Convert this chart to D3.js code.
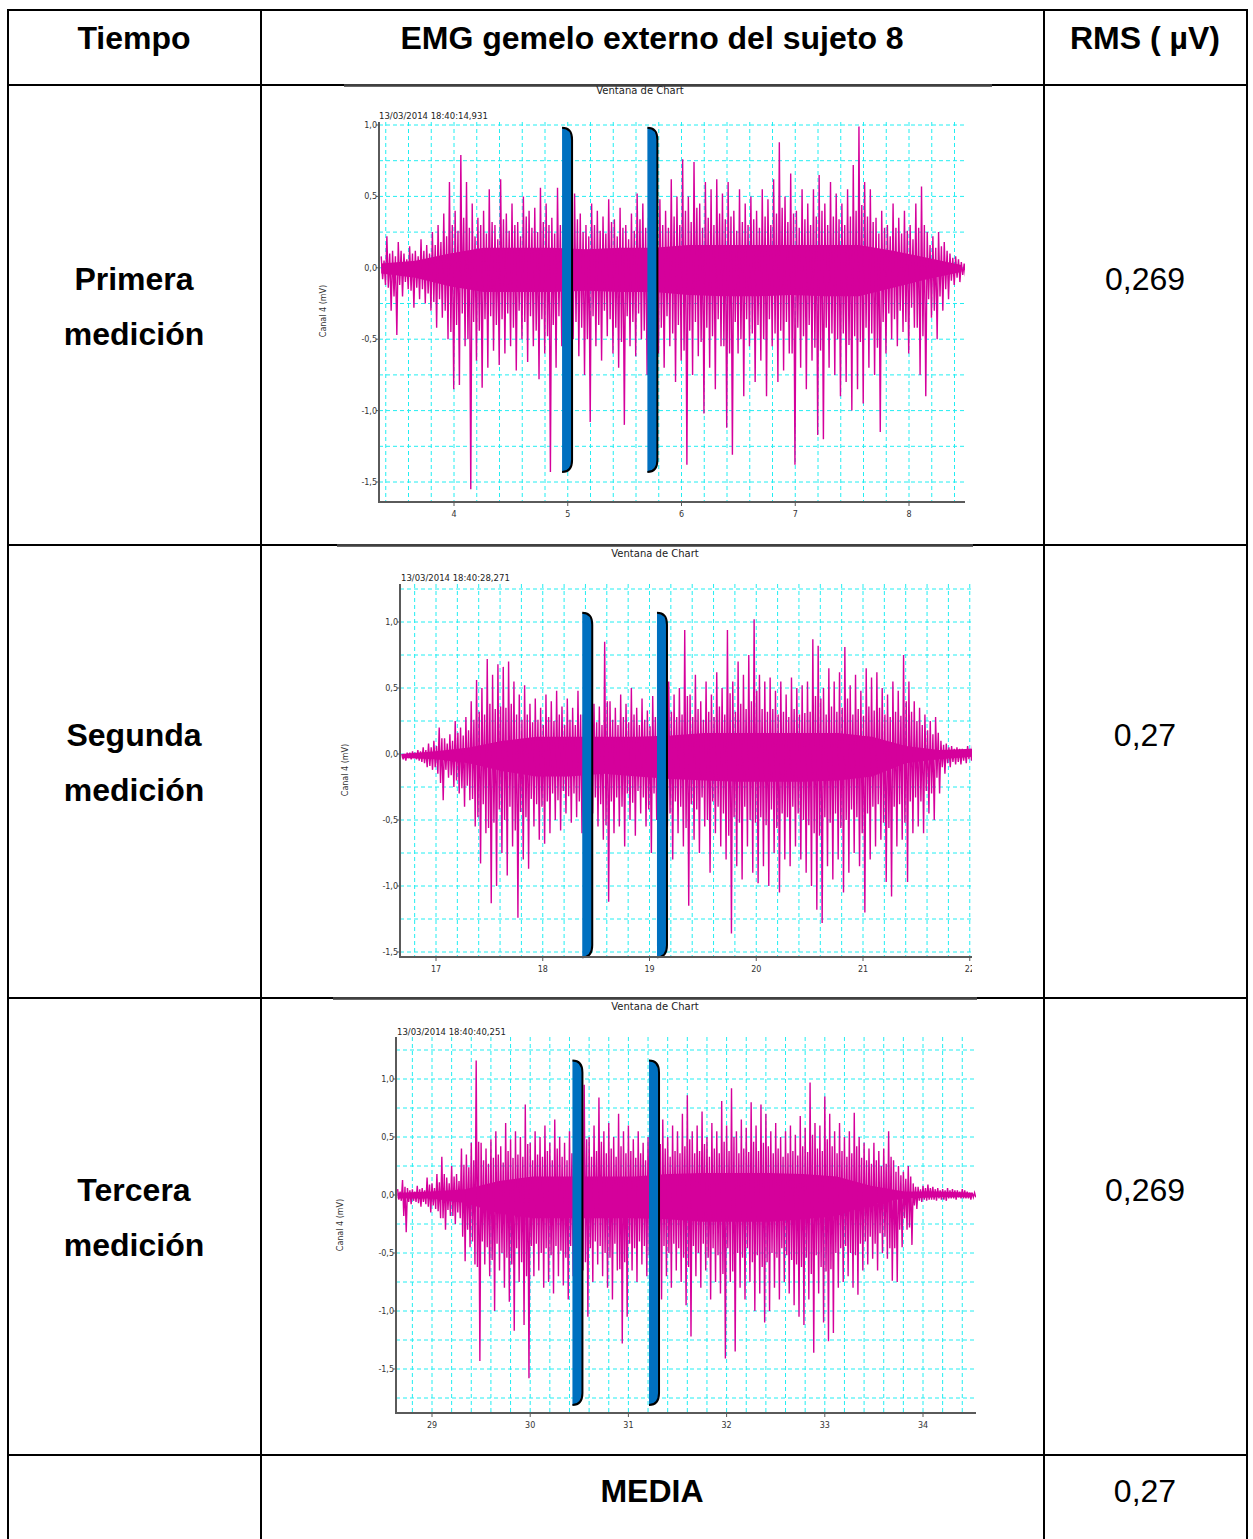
<!DOCTYPE html>
<html><head><meta charset="utf-8">
<script src="https://cdn.jsdelivr.net/npm/d3@7"></script>
<style>body{margin:0;background:#fff}svg{display:block}</style>
</head><body>
<svg id="c" width="1253" height="1539"></svg>
<script>
// ---------- table texts ----------
const headers = ["Tiempo", "EMG gemelo externo del sujeto 8", "RMS ( µV)"];
const rowLabels = [["Primera","medición"],["Segunda","medición"],["Tercera","medición"]];
const rmsValues = ["0,269", "0,27", "0,269"];
const meanLabel = "MEDIA";
const meanValue = "0,27";

// ---------- chart texts ----------
const chartTitles = ["Ventana de Chart","Ventana de Chart","Ventana de Chart"];
const stamps = ["13/03/2014 18:40:14,931","13/03/2014 18:40:28,271","13/03/2014 18:40:40,251"];
const yLabel = "Canal 4 (mV)";
const xTicks1 = [4,5,6,7,8];
const xTicks2 = [17,18,19,20,21,22];
const xTicks3 = [29,30,31,32,33,34];
const yTicks = [1.0,0.5,0.0,-0.5,-1.0,-1.5];

// ---------- signal 1: time span, big peaks/troughs, medium peaks/troughs, dense core ----------
const span1 = [3.36, 8.46];
const up1 = [0.08,0.22,0.12,0.18,0.10,0.15,0.12,0.20,0.16,0.25,
 0.30,0.38,0.60,0.40,0.79,0.60,0.45,0.35,0.40,0.55,
 0.30,0.62,0.38,0.45,0.32,0.50,0.40,0.42,0.56,0.45,
 0.35,0.56,0.30,0.35,0.52,0.38,0.30,0.45,0.40,0.36,
 0.48,0.34,0.42,0.30,0.38,0.52,0.45,0.35,0.40,0.48,
 0.40,0.62,0.50,0.76,0.50,0.74,0.45,0.60,0.55,0.62,
 0.52,0.60,0.40,0.55,0.45,0.50,0.40,0.55,0.48,0.62,
 0.88,0.50,0.66,0.40,0.55,0.45,0.55,0.65,0.45,0.60,
 0.52,0.45,0.55,0.72,0.99,0.60,0.55,0.35,0.40,0.30,
 0.45,0.35,0.40,0.30,0.45,0.57,0.25,0.22,0.25,0.18,
 0.10,0.08,0.04];
const down1 = [-0.12,-0.30,-0.47,-0.20,-0.15,-0.28,-0.22,-0.25,-0.30,-0.42,
 -0.35,-0.50,-0.85,-0.82,-0.55,-1.55,-0.65,-0.84,-0.70,-0.58,
 -0.68,-0.60,-0.55,-0.72,-0.50,-0.66,-0.55,-0.78,-0.60,-1.43,
 -0.70,-0.55,-0.40,-0.50,-0.62,-0.75,-1.08,-0.55,-0.65,-0.48,
 -0.60,-0.70,-1.10,-0.55,-0.62,-0.50,-0.75,-0.45,-0.60,-0.70,
 -0.55,-0.80,-0.65,-1.38,-0.75,-0.62,-1.02,-0.70,-0.85,-0.55,
 -1.12,-1.31,-0.60,-0.90,-0.55,-0.80,-0.65,-0.90,-0.55,-0.80,
 -0.72,-0.60,-1.38,-0.70,-0.85,-0.65,-1.17,-1.20,-0.70,-0.75,
 -0.90,-0.80,-1.00,-0.85,-0.95,-0.70,-0.75,-1.15,-0.60,-0.50,
 -0.55,-0.45,-0.60,-0.42,-0.75,-0.90,-0.35,-0.50,-0.30,-0.22,
 -0.12,-0.10,-0.06];
const midUp1 = [0.05,0.10,0.08,0.12,0.06,0.10,0.08,0.12,0.10,0.16,
 0.18,0.22,0.30,0.26,0.35,0.28,0.22,0.30,0.24,0.32,
 0.20,0.34,0.26,0.30,0.22,0.36,0.28,0.25,0.32,0.30,
 0.24,0.30,0.22,0.28,0.34,0.25,0.22,0.30,0.26,0.24,
 0.32,0.22,0.28,0.20,0.26,0.34,0.28,0.24,0.26,0.30,
 0.28,0.36,0.30,0.40,0.32,0.42,0.28,0.35,0.30,0.38,
 0.34,0.36,0.26,0.32,0.30,0.34,0.28,0.36,0.30,0.38,
 0.42,0.32,0.38,0.28,0.34,0.30,0.36,0.40,0.30,0.36,
 0.34,0.30,0.36,0.40,0.44,0.36,0.32,0.24,0.28,0.22,
 0.28,0.24,0.26,0.20,0.28,0.30,0.16,0.14,0.15,0.12,
 0.07,0.06,0.03];
const midDown1 = [-0.08,-0.14,-0.20,-0.12,-0.10,-0.16,-0.14,-0.15,-0.18,-0.24,
 -0.22,-0.30,-0.45,-0.40,-0.32,-0.50,-0.38,-0.44,-0.36,-0.34,
 -0.40,-0.36,-0.32,-0.42,-0.30,-0.38,-0.34,-0.44,-0.36,-0.48,
 -0.40,-0.34,-0.28,-0.32,-0.38,-0.42,-0.50,-0.34,-0.40,-0.30,
 -0.36,-0.42,-0.52,-0.34,-0.38,-0.32,-0.44,-0.30,-0.36,-0.42,
 -0.34,-0.46,-0.40,-0.58,-0.44,-0.38,-0.52,-0.42,-0.48,-0.36,
 -0.55,-0.60,-0.38,-0.50,-0.36,-0.46,-0.40,-0.50,-0.36,-0.46,
 -0.44,-0.38,-0.60,-0.42,-0.48,-0.40,-0.56,-0.58,-0.42,-0.46,
 -0.50,-0.46,-0.54,-0.48,-0.52,-0.42,-0.46,-0.56,-0.38,-0.32,
 -0.36,-0.30,-0.38,-0.28,-0.42,-0.48,-0.22,-0.30,-0.20,-0.15,
 -0.09,-0.07,-0.05];
const coreUp1 = [0.03,0.05,0.10,0.14,0.14,0.14,0.13,0.14,0.14,0.16,0.16,0.16,0.16,0.16,0.16,0.12,0.07,0.02];
const coreDown1 = [-0.04,-0.07,-0.13,-0.17,-0.17,-0.17,-0.16,-0.17,-0.17,-0.19,-0.20,-0.20,-0.19,-0.20,-0.20,-0.14,-0.08,-0.03];
const cursors1 = [4.95, 5.70];
const cursorRange1 = [0.98, -1.43];

// ---------- signal 2 ----------
const span2 = [16.68, 22.03];
const up2 = [0.00,0.01,0.02,0.03,0.05,0.08,0.10,0.20,0.12,0.15,
 0.25,0.20,0.28,0.40,0.56,0.50,0.72,0.60,0.68,0.66,
 0.70,0.55,0.45,0.52,0.38,0.42,0.35,0.45,0.40,0.48,
 0.36,0.42,0.35,0.48,0.30,0.32,0.38,0.36,0.85,0.40,
 0.35,0.45,0.38,0.50,0.35,0.42,0.33,0.44,0.30,0.32,
 0.55,0.45,0.50,0.94,0.45,0.60,0.40,0.55,0.45,0.62,
 0.50,0.94,0.55,0.70,0.60,0.75,1.02,0.60,0.55,0.58,
 0.48,0.55,0.45,0.58,0.50,0.52,0.55,0.87,0.82,0.50,
 0.65,0.55,0.62,0.81,0.52,0.60,0.48,0.65,0.58,0.62,
 0.50,0.45,0.55,0.48,0.75,0.55,0.40,0.35,0.30,0.25,
 0.28,0.10,0.08,0.06,0.05,0.04,0.06,0.10];
const down2 = [-0.05,-0.04,-0.04,-0.06,-0.10,-0.12,-0.15,-0.35,-0.18,-0.25,
 -0.30,-0.40,-0.35,-0.55,-0.83,-0.60,-1.13,-1.00,-0.75,-0.92,
 -0.70,-1.24,-0.80,-0.87,-0.55,-0.65,-0.68,-0.60,-0.50,-0.58,
 -0.45,-0.52,-0.48,-0.60,-0.50,-0.45,-0.55,-0.65,-1.12,-0.60,
 -0.55,-0.70,-0.50,-0.62,-0.45,-0.55,-0.75,-0.50,-0.45,-0.55,
 -0.80,-0.60,-0.70,-1.15,-0.65,-0.75,-0.55,-0.90,-0.60,-0.70,
 -0.80,-1.36,-0.85,-0.95,-0.70,-0.90,-0.98,-0.85,-1.00,-0.75,
 -1.05,-0.80,-0.85,-0.70,-0.80,-0.90,-1.00,-1.18,-1.28,-0.85,
 -0.95,-0.80,-1.05,-0.90,-0.75,-0.85,-1.20,-0.80,-0.70,-0.65,
 -0.97,-1.08,-0.70,-0.65,-0.97,-0.60,-0.55,-0.60,-0.45,-0.50,
 -0.30,-0.15,-0.10,-0.08,-0.08,-0.07,-0.05,-0.02];
const midUp2 = [0.00,0.01,0.01,0.02,0.03,0.05,0.06,0.12,0.08,0.10,
 0.16,0.14,0.18,0.26,0.32,0.30,0.38,0.34,0.36,0.35,
 0.38,0.30,0.26,0.30,0.24,0.26,0.22,0.28,0.25,0.30,
 0.22,0.26,0.22,0.30,0.20,0.22,0.24,0.22,0.40,0.26,
 0.22,0.28,0.24,0.30,0.22,0.26,0.21,0.28,0.20,0.22,
 0.32,0.28,0.30,0.44,0.28,0.34,0.26,0.32,0.28,0.36,
 0.30,0.46,0.32,0.38,0.34,0.40,0.48,0.34,0.32,0.34,
 0.30,0.32,0.28,0.34,0.30,0.31,0.32,0.44,0.42,0.30,
 0.36,0.32,0.35,0.42,0.30,0.34,0.29,0.36,0.33,0.35,
 0.30,0.28,0.32,0.29,0.40,0.32,0.25,0.22,0.18,0.15,
 0.16,0.07,0.05,0.04,0.04,0.03,0.04,0.06];
const midDown2 = [-0.04,-0.03,-0.03,-0.05,-0.07,-0.09,-0.10,-0.22,-0.12,-0.16,
 -0.20,-0.26,-0.24,-0.34,-0.48,-0.38,-0.56,-0.52,-0.42,-0.50,
 -0.40,-0.58,-0.44,-0.48,-0.34,-0.38,-0.40,-0.36,-0.30,-0.35,
 -0.28,-0.32,-0.30,-0.36,-0.30,-0.28,-0.33,-0.38,-0.54,-0.36,
 -0.33,-0.40,-0.30,-0.37,-0.28,-0.33,-0.42,-0.30,-0.28,-0.33,
 -0.45,-0.36,-0.40,-0.56,-0.38,-0.42,-0.33,-0.50,-0.36,-0.40,
 -0.45,-0.62,-0.48,-0.52,-0.40,-0.50,-0.52,-0.48,-0.54,-0.42,
 -0.56,-0.45,-0.48,-0.40,-0.45,-0.50,-0.54,-0.60,-0.62,-0.48,
 -0.52,-0.45,-0.56,-0.50,-0.42,-0.48,-0.60,-0.45,-0.40,-0.38,
 -0.52,-0.56,-0.40,-0.38,-0.52,-0.36,-0.33,-0.36,-0.28,-0.30,
 -0.18,-0.10,-0.07,-0.06,-0.06,-0.05,-0.04,-0.02];
const coreUp2 = [0.00,0.02,0.05,0.10,0.13,0.13,0.13,0.13,0.14,0.16,0.16,0.16,0.16,0.16,0.13,0.06,0.03,0.04];
const coreDown2 = [-0.03,-0.04,-0.07,-0.13,-0.17,-0.17,-0.15,-0.17,-0.19,-0.20,-0.21,-0.21,-0.21,-0.20,-0.17,-0.07,-0.04,-0.02];
const cursors2 = [18.37, 19.07];
const cursorRange2 = [1.07, -1.54];

// ---------- signal 3 ----------
const span3 = [28.65, 34.50];
const up3 = [0.05,0.13,0.06,0.05,0.08,0.06,0.15,0.10,0.18,0.33,
 0.15,0.25,0.18,0.40,0.35,0.45,1.16,0.45,0.40,0.48,
 0.55,0.42,0.62,0.48,0.55,0.50,0.78,0.45,0.55,0.50,
 0.60,0.45,0.65,0.50,0.45,0.55,0.40,0.50,0.95,0.50,
 0.60,0.84,0.55,0.62,0.50,0.70,0.55,0.60,0.48,0.55,
 0.45,0.50,0.60,0.72,0.65,0.50,0.60,0.55,0.70,0.86,
 0.55,0.60,0.72,0.50,0.62,0.55,0.81,0.60,0.92,0.55,
 0.65,0.58,0.80,0.60,0.78,0.70,0.55,0.62,0.50,0.55,
 0.60,0.52,0.68,0.58,0.97,0.62,0.60,0.85,0.70,0.55,
 0.62,0.50,0.55,0.71,0.50,0.45,0.40,0.45,0.38,0.40,
 0.55,0.30,0.25,0.20,0.25,0.10,0.07,0.08,0.09,0.07,
 0.06,0.05,0.06,0.05,0.04,0.05,0.03,0.02];
const down3 = [-0.05,-0.32,-0.08,-0.06,-0.10,-0.08,-0.15,-0.12,-0.20,-0.30,
 -0.18,-0.25,-0.20,-0.57,-0.45,-0.60,-1.43,-0.60,-0.70,-1.00,
 -0.65,-0.80,-0.92,-1.17,-0.75,-1.12,-1.58,-0.70,-0.65,-0.80,
 -0.75,-0.85,-0.70,-0.78,-0.90,-0.70,-0.60,-0.65,-1.05,-0.75,
 -0.60,-0.70,-0.80,-0.90,-0.65,-1.28,-1.05,-0.65,-0.75,-0.60,
 -0.70,-0.85,-1.00,-0.90,-0.70,-0.80,-0.65,-0.75,-0.95,-1.22,
 -0.70,-0.80,-0.65,-0.90,-0.75,-0.85,-1.41,-0.75,-1.35,-0.80,
 -0.90,-0.75,-1.00,-0.85,-1.10,-1.00,-0.80,-0.90,-0.75,-0.85,
 -0.95,-1.05,-1.12,-0.90,-1.36,-0.85,-1.10,-1.26,-1.19,-0.80,
 -0.75,-0.70,-0.80,-0.86,-0.65,-0.60,-0.55,-0.65,-0.50,-0.55,
 -0.74,-0.75,-0.45,-0.30,-0.43,-0.12,-0.06,-0.05,-0.04,-0.05,
 -0.04,-0.05,-0.03,-0.04,-0.03,-0.03,-0.04,-0.02];
const midUp3 = [0.03,0.07,0.04,0.03,0.05,0.04,0.09,0.06,0.11,0.18,
 0.10,0.16,0.12,0.26,0.24,0.30,0.46,0.30,0.27,0.32,
 0.35,0.28,0.38,0.32,0.35,0.33,0.44,0.30,0.35,0.33,
 0.38,0.30,0.40,0.33,0.30,0.36,0.28,0.33,0.48,0.33,
 0.38,0.46,0.36,0.40,0.33,0.42,0.36,0.38,0.32,0.36,
 0.30,0.33,0.38,0.44,0.40,0.33,0.38,0.36,0.42,0.48,
 0.36,0.38,0.44,0.33,0.40,0.36,0.46,0.38,0.50,0.36,
 0.40,0.37,0.46,0.38,0.45,0.42,0.36,0.40,0.33,0.36,
 0.38,0.34,0.42,0.37,0.52,0.40,0.38,0.48,0.42,0.36,
 0.38,0.33,0.36,0.42,0.32,0.30,0.27,0.30,0.25,0.27,
 0.33,0.20,0.17,0.14,0.16,0.07,0.05,0.06,0.06,0.05,
 0.04,0.04,0.04,0.04,0.03,0.04,0.02,0.02];
const midDown3 = [-0.04,-0.18,-0.06,-0.05,-0.07,-0.06,-0.10,-0.09,-0.14,-0.20,
 -0.13,-0.18,-0.15,-0.36,-0.30,-0.40,-0.62,-0.40,-0.45,-0.56,
 -0.42,-0.50,-0.54,-0.60,-0.46,-0.58,-0.70,-0.44,-0.42,-0.50,
 -0.46,-0.52,-0.44,-0.48,-0.54,-0.44,-0.40,-0.42,-0.58,-0.46,
 -0.40,-0.44,-0.50,-0.54,-0.42,-0.64,-0.58,-0.42,-0.46,-0.40,
 -0.44,-0.52,-0.58,-0.54,-0.44,-0.50,-0.42,-0.46,-0.54,-0.62,
 -0.44,-0.50,-0.42,-0.54,-0.46,-0.52,-0.68,-0.46,-0.66,-0.50,
 -0.54,-0.46,-0.58,-0.52,-0.62,-0.58,-0.50,-0.54,-0.46,-0.52,
 -0.56,-0.60,-0.62,-0.54,-0.68,-0.52,-0.62,-0.66,-0.64,-0.50,
 -0.46,-0.44,-0.50,-0.52,-0.42,-0.40,-0.36,-0.42,-0.33,-0.36,
 -0.46,-0.46,-0.30,-0.20,-0.28,-0.09,-0.05,-0.04,-0.04,-0.04,
 -0.03,-0.04,-0.03,-0.03,-0.02,-0.03,-0.03,-0.02];
const coreUp3 = [0.02,0.03,0.05,0.12,0.16,0.16,0.16,0.16,0.18,0.19,0.19,0.19,0.18,0.16,0.08,0.03,0.03,0.02];
const coreDown3 = [-0.03,-0.03,-0.07,-0.16,-0.20,-0.20,-0.20,-0.20,-0.21,-0.23,-0.23,-0.23,-0.21,-0.18,-0.08,-0.03,-0.02,-0.02];
const cursors3 = [30.43, 31.21];
const cursorRange3 = [1.16, -1.81];

// ---------- layout (pixels) ----------
const W = 1253, H = 1539;
const colX = [8, 261, 1044, 1247];
const rowY = [10, 85, 545, 998, 1455];
const layouts = [
  {xr:[4,454,8,909], xAx:[379,965], yr:[1.0,125,-1.5,482], yAx:[122,502], img:[344,992,85], title:[640,94], stamp:[379,119], ylab:[326,311]},
  {xr:[17,436,21,863], xAx:[400,972], yr:[1.0,622,-1.5,952], yAx:[584,957], img:[337,973,545], title:[655,557], stamp:[401,581], ylab:[348,770]},
  {xr:[29,432,34,923], xAx:[396,976], yr:[1.0,1079,-1.5,1369], yAx:[1037,1413], img:[333,977,998], title:[655,1010], stamp:[397,1035], ylab:[343,1225]}
];
const series = [
  {span:span1, up:up1, down:down1, mu:midUp1, md:midDown1, cu:coreUp1, cd:coreDown1, cur:cursors1, cr:cursorRange1, xt:xTicks1},
  {span:span2, up:up2, down:down2, mu:midUp2, md:midDown2, cu:coreUp2, cd:coreDown2, cur:cursors2, cr:cursorRange2, xt:xTicks2},
  {span:span3, up:up3, down:down3, mu:midUp3, md:midDown3, cu:coreUp3, cd:coreDown3, cur:cursors3, cr:cursorRange3, xt:xTicks3}
];

const MAG = "#d5009b", GRID = "#22eef2", AX = "#5a5a5a";
const svg = d3.select("#c");
svg.append("rect").attr("width", W).attr("height", H).attr("fill", "#fff");
const defs = svg.append("defs");

const fmt = v => d3.format(".1f")(v).replace(".", ",").replace("−", "-");

layouts.forEach((L, k) => {
  const S = series[k];
  const x = d3.scaleLinear().domain([L.xr[0], L.xr[2]]).range([L.xr[1], L.xr[3]]);
  const y = d3.scaleLinear().domain([L.yr[0], L.yr[2]]).range([L.yr[1], L.yr[3]]);
  const x0 = L.xAx[0], x1 = L.xAx[1], yTop = L.yAx[0], yBot = L.yAx[1];
  const g = svg.append("g");

  g.append("line").attr("x1", L.img[0]).attr("x2", L.img[1]).attr("y1", L.img[2] + 1.5).attr("y2", L.img[2] + 1.5)
    .attr("stroke", "#6a6a6a").attr("stroke-width", 1);

  const clipId = "clip" + k;
  defs.append("clipPath").attr("id", clipId).append("rect")
    .attr("x", x0).attr("y", yTop).attr("width", x1 - x0).attr("height", yBot - yTop);
  const lclip = "lclip" + k;
  defs.append("clipPath").attr("id", lclip).append("rect")
    .attr("x", x0 - 60).attr("y", yBot).attr("width", (L.img[1] - 1) - (x0 - 60)).attr("height", 30);

  // grids
  const vLo = x.invert(x0), vHi = x.invert(x1);
  const vg = d3.range(Math.ceil(vLo / 0.2 + 1e-6), Math.floor(vHi / 0.2 - 1e-6) + 1).map(i => i * 0.2);
  g.append("g").selectAll("line").data(vg).join("line")
    .attr("x1", d => x(d)).attr("x2", d => x(d)).attr("y1", yTop).attr("y2", yBot)
    .attr("stroke", GRID).attr("stroke-width", 1).attr("stroke-dasharray", "4,3");
  const hLo = y.invert(yBot), hHi = y.invert(yTop);
  const hg = d3.range(Math.ceil(hLo / 0.25 - 1e-6), Math.floor(hHi / 0.25 + 1e-6) + 1).map(i => i * 0.25);
  g.append("g").selectAll("line").data(hg).join("line")
    .attr("x1", x0).attr("x2", x1).attr("y1", d => y(d)).attr("y2", d => y(d))
    .attr("stroke", GRID).attr("stroke-width", 1).attr("stroke-dasharray", "4,3");

  // signal
  const sg = g.append("g").attr("clip-path", `url(#${clipId})`);
  const nc = S.cu.length, dc = (S.span[1] - S.span[0]) / (nc - 1);
  const core = S.cu.map((v, i) => ({t: S.span[0] + i * dc, a: v, b: S.cd[i]}));
  sg.append("path").datum(core)
    .attr("d", d3.area().x(d => x(d.t)).y0(d => y(d.b)).y1(d => y(d.a)))
    .attr("fill", MAG);
  const n = S.up.length, dt = (S.span[1] - S.span[0]) / (n - 1);
  const pts = [];
  S.up.forEach((v, i) => {
    const t = S.span[0] + i * dt;
    pts.push([t, v]);
    pts.push([t + 0.25 * dt, S.md[i]]);
    pts.push([t + 0.5 * dt, S.mu[i]]);
    pts.push([t + 0.75 * dt, S.down[i]]);
  });
  sg.append("path").datum(pts)
    .attr("d", d3.line().x(d => x(d[0])).y(d => y(d[1])))
    .attr("fill", "none").attr("stroke", MAG).attr("stroke-width", 1.4).attr("stroke-linejoin", "miter");

  // cursors
  const ct = y(S.cr[0]), cb = y(S.cr[1]), cw = 10, ch = 12;
  S.cur.forEach(c => {
    const l = x(c), r = l + cw;
    const p = `M${l},${ct} Q${r},${ct} ${r},${ct + ch} L${r},${cb - ch} Q${r},${cb} ${l},${cb}`;
    g.append("path").attr("d", p + " Z").attr("fill", "#0070c0");
    g.append("path").attr("d", p).attr("fill", "none").attr("stroke", "#000").attr("stroke-width", 2);
  });

  // axes
  g.append("line").attr("x1", x0).attr("x2", x0).attr("y1", yTop).attr("y2", yBot + 1).attr("stroke", AX).attr("stroke-width", 2);
  g.append("line").attr("x1", x0 - 1).attr("x2", x1).attr("y1", yBot).attr("y2", yBot).attr("stroke", AX).attr("stroke-width", 2);
  const xl = g.append("g").attr("clip-path", `url(#${lclip})`);
  S.xt.forEach(t => {
    xl.append("line").attr("x1", x(t)).attr("x2", x(t)).attr("y1", yBot).attr("y2", yBot + 4).attr("stroke", AX);
    xl.append("text").attr("x", x(t)).attr("y", yBot + 15).attr("text-anchor", "middle")
      .attr("font-family", "DejaVu Sans").attr("font-size", 8).attr("fill", "#333").text(t);
  });
  yTicks.forEach(t => {
    g.append("line").attr("x1", x0 - 3).attr("x2", x0).attr("y1", y(t)).attr("y2", y(t)).attr("stroke", AX);
    g.append("text").attr("x", x0 - 2).attr("y", y(t) + 3).attr("text-anchor", "end")
      .attr("font-family", "DejaVu Sans").attr("font-size", 8).attr("fill", "#333").text(fmt(t));
  });
  g.append("text").attr("transform", `translate(${L.ylab[0]},${L.ylab[1]}) rotate(-90)`).attr("text-anchor", "middle")
    .attr("font-family", "DejaVu Sans").attr("font-size", 8).attr("fill", "#333").text(yLabel);
  g.append("text").attr("x", L.stamp[0]).attr("y", L.stamp[1])
    .attr("font-family", "DejaVu Sans").attr("font-size", 8.5).attr("fill", "#222").text(stamps[k]);
  g.append("text").attr("x", L.title[0]).attr("y", L.title[1]).attr("text-anchor", "middle")
    .attr("font-family", "DejaVu Sans").attr("font-size", 10).attr("fill", "#222").text(chartTitles[k]);
});

// ---------- table ----------
const tb = svg.append("g").attr("stroke", "#000").attr("stroke-width", 2);
colX.forEach(cx => tb.append("line").attr("x1", cx).attr("x2", cx).attr("y1", rowY[0] - 1).attr("y2", H));
rowY.forEach(ry => {
  const img = layouts.find(L => L.img[2] === ry);
  if (img) {
    tb.append("line").attr("x1", colX[0] - 1).attr("x2", img.img[0]).attr("y1", ry).attr("y2", ry);
    tb.append("line").attr("x1", img.img[1]).attr("x2", colX[3] + 1).attr("y1", ry).attr("y2", ry);
    tb.append("line").attr("x1", img.img[0]).attr("x2", img.img[1]).attr("y1", ry).attr("y2", ry).attr("stroke-width", 1.5);
  } else {
    tb.append("line").attr("x1", colX[0] - 1).attr("x2", colX[3] + 1).attr("y1", ry).attr("y2", ry);
  }
});

const T = (txt, cx, by, bold) => svg.append("text").attr("x", cx).attr("y", by).attr("text-anchor", "middle")
  .attr("font-family", "Liberation Sans, Arial, sans-serif").attr("font-size", 32)
  .attr("font-weight", bold ? "bold" : "normal").attr("fill", "#000").text(txt);
const colC = [134, 652, 1145];
headers.forEach((h, i) => T(h, colC[i], 49, true));
const rowC = [279, 735, 1190];
rowLabels.forEach((r, i) => {
  T(r[0], colC[0], rowC[i] + 11, true);
  T(r[1], colC[0], rowC[i] + 66, true);
  T(rmsValues[i], colC[2], rowC[i] + 11, false);
});
T(meanLabel, colC[1], 1502, true);
T(meanValue, colC[2], 1502, false);
</script>
</body></html>
